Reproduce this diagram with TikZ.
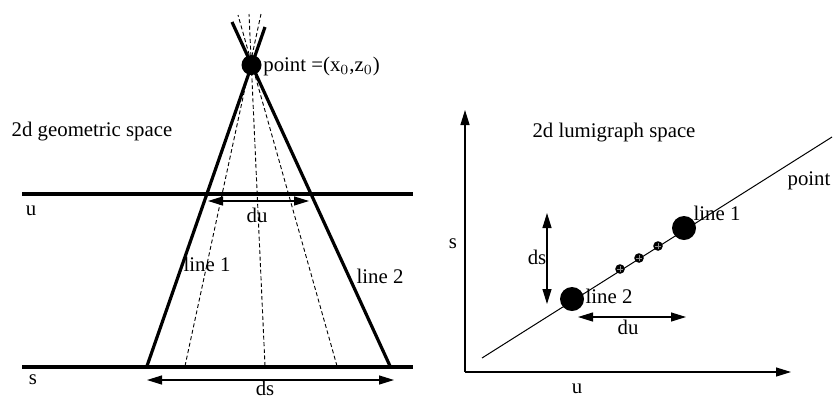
\documentclass[tikz,border=0pt]{standalone}
\usepackage{fontspec}
\setmainfont{Liberation Serif}
\usetikzlibrary{arrows.meta}
\begin{document}
\begin{tikzpicture}[x=0.5pt,y=-0.5pt,
  lbl/.style={inner sep=0pt,font=\fontsize{10.4}{12}\selectfont},
  thickline/.style={line width=1.6pt},
  thinline/.style={line width=0.5pt},
  dashline/.style={line width=0.45pt,dash pattern=on 2pt off 1.3pt},
  dimarrow/.style={line width=0.6pt,{Triangle[length=7.5pt,width=4.5pt]}-{Triangle[length=7.5pt,width=4.5pt]}},
  axisarrow/.style={line width=0.6pt,-{Triangle[length=7.5pt,width=4.5pt]}},
  bigdot/.style={circle,fill=black,inner sep=0pt,minimum size=11pt},
  smalldot/.style={circle,fill=black,inner sep=0pt,minimum size=4.8pt}]
\useasboundingbox (0,0) rectangle (834,397);
% ---------------- left panel ----------------
\coordinate (uL) at (22,194);  \coordinate (uR) at (413,194);
\coordinate (sL) at (22,367);  \coordinate (sR) at (413,367);
\draw[thickline] (uL) -- (uR);
\draw[thickline] (sL) -- (sR);
\node[lbl] (ulab) at (31,211) {u};
\node[lbl] (slab) at (33,380) {s};
\node[lbl] (geo) at (92,132) {2d geometric space};
% thick lines
\coordinate (l1b) at (147,366); \coordinate (l1t) at (265,27);
\coordinate (l2b) at (390,366); \coordinate (l2t) at (232,22);
\draw[thickline] (l1b) -- (l1t);
\draw[thickline] (l2b) -- (l2t);
% dashed lines
\coordinate (d1b) at (185,366); \coordinate (d1t) at (261,14);
\coordinate (d2b) at (265,366); \coordinate (d2t) at (249,14);
\coordinate (d3b) at (337,366); \coordinate (d3t) at (238,15);
\draw[dashline] (d1b) -- (d1t);
\draw[dashline] (d2b) -- (d2t);
\draw[dashline] (d3b) -- (d3t);
\node[bigdot,minimum size=10pt] (apex) at (251.5,65) {};
\node[lbl,anchor=west] (ptlab) at (263,66) {point =(x$_0$,z$_0$)};
% du and ds arrows
\coordinate (duA) at (208,201); \coordinate (duB) at (309,201);
\draw[dimarrow] (duA) -- (duB);
\node[lbl] (dulab) at (257,215) {du};
\coordinate (dsA) at (147,380); \coordinate (dsB) at (394,380);
\draw[dimarrow] (dsA) -- (dsB);
\node[lbl,anchor=base] (dslab) at (265,395) {ds};
\node[lbl] (line1L) at (207,264) {line 1};
\node[lbl] (line2L) at (380,276) {line 2};
% ---------------- right panel ----------------
\coordinate (org) at (465,372);
\coordinate (yend) at (465,110);
\coordinate (xend) at (791,372);
\draw[axisarrow] (org) -- (yend);
\draw[axisarrow] (org) -- (xend);
\node[lbl] (sax) at (453,244) {s};
\node[lbl] (uax) at (577,389) {u};
\node[lbl] (lum) at (614,133) {2d lumigraph space};
\coordinate (lnA) at (482,358); \coordinate (lnB) at (832,137);
\draw[thinline] (lnA) -- (lnB);
\node[lbl] (ptR) at (809,181) {point};
\node[bigdot,minimum size=12pt] (dot1) at (684,228) {};
\node[bigdot,minimum size=12pt] (dot2) at (572,299) {};
\foreach \n/\p in {a/{(620,269)},b/{(639,258)},c/{(658,246)}}{
  \node[smalldot] (sd\n) at \p {};
  \draw[black!45,line width=0.2pt] ([xshift=-1.5pt]sd\n.center) -- ([xshift=1.5pt]sd\n.center);
  \draw[black!45,line width=0.2pt] ([yshift=-1.5pt]sd\n.center) -- ([yshift=1.5pt]sd\n.center);
}
\node[lbl] (line1R) at (717,213) {line 1};
\node[lbl] (line2R) at (609,296) {line 2};
\coordinate (vdsA) at (547,213); \coordinate (vdsB) at (547,304);
\draw[dimarrow] (vdsA) -- (vdsB);
\node[lbl] (vdslab) at (537,257) {ds};
\coordinate (hduA) at (578,317); \coordinate (hduB) at (686,317);
\draw[dimarrow] (hduA) -- (hduB);
\node[lbl] (hdulab) at (628,327) {du};
\end{tikzpicture}
\end{document}
